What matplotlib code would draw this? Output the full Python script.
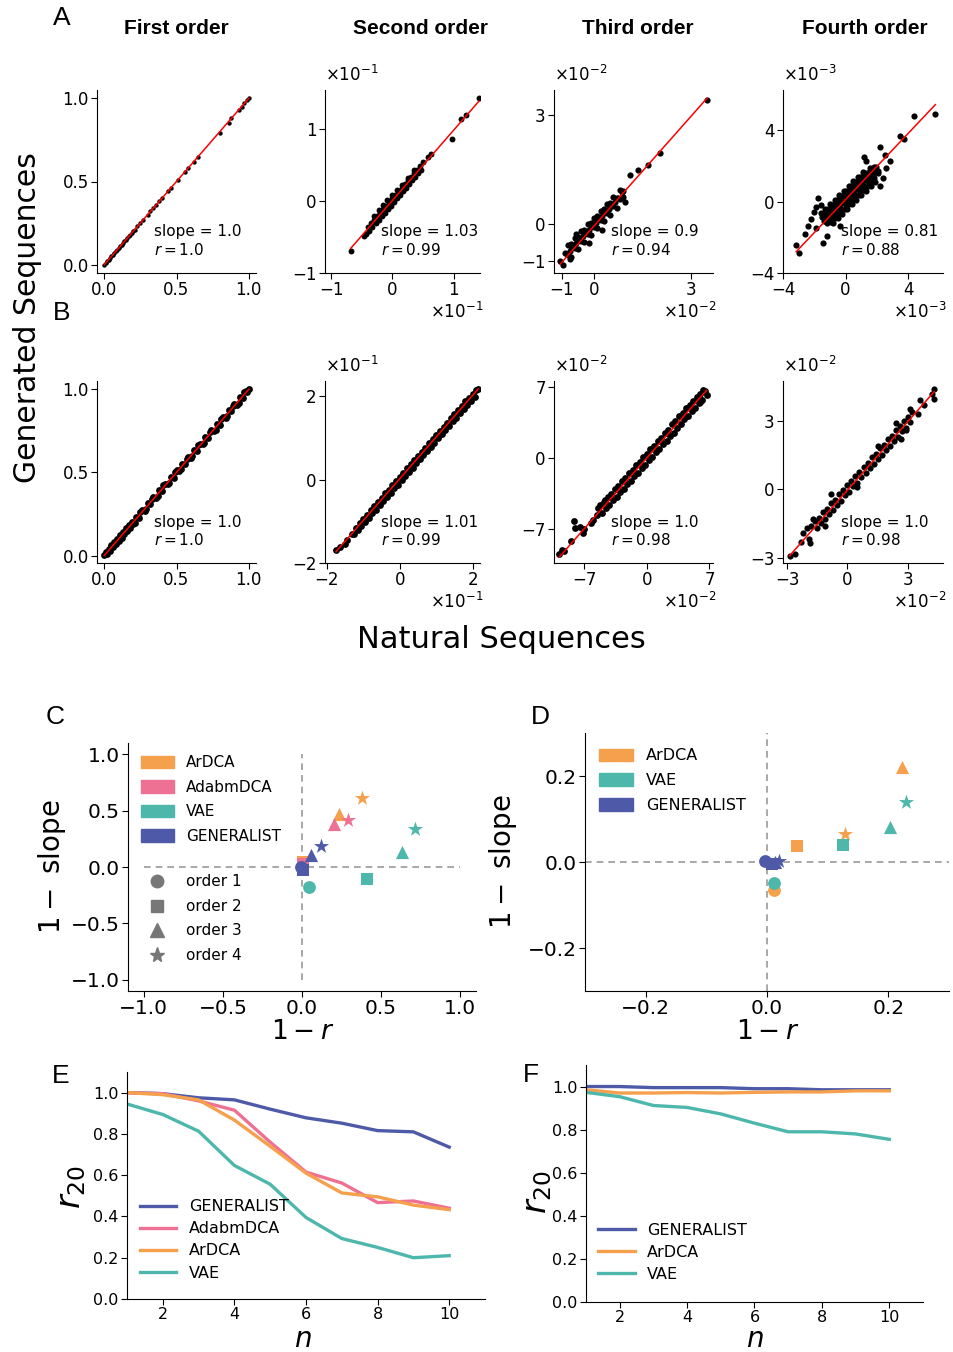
import numpy as np
import matplotlib
matplotlib.use('Agg')
import matplotlib.pyplot as plt
from matplotlib.patches import Patch
from matplotlib.lines import Line2D

# ---------------- data: panels A / B (natural vs generated statistics) ----------------
# values are in the units of each panel's axis (i.e. already divided by the x10^k factor)
nat_A1 = [0.00, 0.01, 0.02, 0.03, 0.04, 0.05, 0.06, 0.07, 0.08, 0.09, 0.10, 0.11, 0.12, 0.13,
          0.14, 0.15, 0.16, 0.17, 0.18, 0.19, 0.20, 0.21, 0.23, 0.25, 0.27, 0.30, 0.32, 0.34,
          0.36, 0.38, 0.40, 0.44, 0.46, 0.51, 0.56, 0.58, 0.62, 0.65, 0.80, 0.86, 0.88, 0.93,
          0.95, 0.97, 0.99, 1.00]
gen_A1 = [0.00, 0.01, 0.02, 0.03, 0.04, 0.05, 0.06, 0.07, 0.08, 0.09, 0.10, 0.11, 0.12, 0.13,
          0.14, 0.15, 0.16, 0.17, 0.18, 0.19, 0.20, 0.21, 0.23, 0.25, 0.27, 0.30, 0.32, 0.34,
          0.36, 0.38, 0.40, 0.44, 0.46, 0.51, 0.56, 0.58, 0.62, 0.65, 0.79, 0.85, 0.88, 0.93,
          0.95, 0.97, 0.99, 1.00]

nat_A2 = [-0.40, -0.35, -0.30, -0.25, -0.20, -0.15, -0.10, -0.05, 0.00, 0.05, 0.10, 0.15, 0.20,
          0.25, 0.30, 0.35, 0.40, 0.45, 0.50,
          -0.375, -0.325, -0.275, -0.225, -0.175, -0.125, -0.075, -0.025, 0.025, 0.075, 0.125,
          0.175, 0.225, 0.275, 0.325, 0.375, 0.425, 0.475,
          -0.30, -0.22, -0.15, -0.08, 0.00, 0.08, 0.15, 0.25, 0.35,
          -0.68, -0.46, -0.43, 0.58, 0.63, 0.98, 1.12, 1.20, 1.41]
gen_A2 = [-0.36, -0.31, -0.26, -0.21, -0.16, -0.11, -0.06, -0.01, 0.04, 0.09, 0.14, 0.19, 0.24,
          0.29, 0.34, 0.39, 0.44, 0.49, 0.54,
          -0.41, -0.36, -0.31, -0.26, -0.21, -0.16, -0.11, -0.06, -0.01, 0.04, 0.09,
          0.14, 0.19, 0.24, 0.29, 0.34, 0.39, 0.44,
          -0.20, -0.12, -0.05, 0.02, 0.09, 0.16, 0.23, 0.33, 0.43,
          -0.69, -0.48, -0.46, 0.62, 0.66, 0.87, 1.14, 1.20, 1.44]

nat_A3 = [-0.8, -0.6, -0.4, -0.2, 0.0, 0.2, 0.4, 0.6,
          -0.9, -0.7, -0.5, -0.3, -0.1, 0.1, 0.3, 0.5, 0.7, 0.85,
          -0.8, -0.6, -0.4, -0.2, 0.0, 0.2, 0.4, 0.6, 0.8,
          -0.7, -0.5, -0.3, -0.1, 0.1, 0.3, 0.5, 0.7,
          -0.85, -0.75, -0.65, -0.55, -0.45, -0.35, -0.25, -0.15, -0.05, 0.05, 0.15, 0.25, 0.35,
          0.45, 0.55, 0.65, 0.75,
          -0.7, -0.5, -0.3, -0.1, 0.1, 0.3, 0.5,
          -1.05, -0.95, -0.75, 0.96, 0.80, 0.90, 1.11, 1.37, 1.66, 2.04, 3.49, -0.15, 0.25, -0.55, 0.90]
gen_A3 = [-0.55, -0.37, -0.18, 0.0, 0.18, 0.37, 0.55, 0.74,
          -0.78, -0.60, -0.40, -0.22, -0.03, 0.16, 0.35, 0.54, 0.73, 0.88,
          -0.84, -0.65, -0.45, -0.26, -0.07, 0.12, 0.31, 0.50, 0.69,
          -0.88, -0.68, -0.49, -0.30, -0.10, 0.08, 0.27, 0.45,
          -0.82, -0.72, -0.62, -0.52, -0.43, -0.33, -0.24, -0.14, -0.05, 0.05, 0.14, 0.24, 0.33,
          0.43, 0.52, 0.62, 0.71,
          -0.53, -0.34, -0.15, 0.04, 0.23, 0.42, 0.60,
          -0.99, -1.12, -0.95, 0.61, 0.95, 0.92, 1.34, 1.50, 1.62, 1.95, 3.40, -0.50, -0.15, -0.25, 0.75]

nat_A4 = [-1.6, -1.3, -1.0, -0.7, -0.4, -0.1, 0.2, 0.5, 0.8, 1.1,
          -1.5, -1.2, -0.9, -0.6, -0.3, 0.0, 0.3, 0.6, 0.9, 1.2, 1.5, 1.8,
          -1.4, -1.1, -0.8, -0.5, -0.2, 0.1, 0.4, 0.7, 1.0, 1.3, 1.6, 1.9,
          -1.2, -0.9, -0.6, -0.3, 0.0, 0.3, 0.6, 0.9, 1.2, 1.5, 1.8, 2.1,
          -0.8, -0.5, -0.2, 0.1, 0.4, 0.7, 1.0, 1.3, 1.6, 1.9,
          -1.45, -1.15, -0.85, -0.55, -0.25, 0.05, 0.35, 0.65, 0.95, 1.25, 1.55,
          -1.35, -1.05, -0.75, -0.45, -0.15, 0.15, 0.45, 0.75, 1.05, 1.35, 1.65, 1.95,
          -1.25, -0.95, -0.65, -0.35, -0.05, 0.25, 0.55, 0.85, 1.15, 1.45, 1.75, 2.05,
          -0.95, -0.65, -0.35, -0.05, 0.25, 0.55, 0.85, 1.15, 1.45, 1.75,
          5.75, 4.36, 3.46, 3.74, 2.22, 2.82, 1.17, -3.16, -2.95, -1.77, -2.42, -1.45, -0.38,
          -2.0, -2.2, -1.9, -1.6, 2.4, 2.5, -2.6, -1.2, 1.3, 2.2, -1.9, 2.6]
gen_A4 = [-0.66, -0.41, -0.15, 0.11, 0.36, 0.62, 0.87, 1.13, 1.38, 1.64,
          -0.88, -0.62, -0.37, -0.11, 0.15, 0.40, 0.66, 0.91, 1.17, 1.42, 1.68, 1.93,
          -1.09, -0.84, -0.58, -0.33, -0.07, 0.19, 0.44, 0.70, 0.95, 1.21, 1.46, 1.72,
          -1.22, -0.97, -0.71, -0.46, -0.20, 0.06, 0.31, 0.57, 0.82, 1.08, 1.33, 1.59,
          -1.18, -0.93, -0.67, -0.42, -0.16, 0.10, 0.35, 0.61, 0.86, 1.12,
          -0.68, -0.43, -0.17, 0.08, 0.34, 0.59, 0.85, 1.10, 1.36, 1.61, 1.87,
          -0.90, -0.64, -0.39, -0.13, 0.12, 0.38, 0.63, 0.89, 1.14, 1.40, 1.65, 1.91,
          -1.11, -0.86, -0.60, -0.35, -0.09, 0.16, 0.42, 0.67, 0.93, 1.18, 1.44, 1.69,
          -1.16, -0.90, -0.65, -0.39, -0.14, 0.12, 0.37, 0.63, 0.88, 1.14,
          4.93, 4.78, 3.65, 3.48, 3.05, 2.25, 2.49, -2.42, -2.90, 0.21, -1.35, -2.32, -1.35,
          -0.6, -1.0, -1.5, -0.2, 1.3, 2.6, -1.8, -1.9, 2.3, 0.9, -0.3, 1.9]

nat_B1 = [0.00, 0.01, 0.02, 0.03, 0.04, 0.05, 0.06, 0.07, 0.08, 0.09, 0.10, 0.11, 0.12, 0.13,
          0.14, 0.15, 0.16, 0.17, 0.18, 0.19, 0.20,
          0.22, 0.24, 0.26, 0.28, 0.30, 0.32, 0.34, 0.36, 0.38, 0.40, 0.42, 0.44, 0.46, 0.48,
          0.50, 0.52, 0.54, 0.56, 0.58, 0.60, 0.62, 0.64, 0.66, 0.68, 0.70, 0.72, 0.74, 0.76,
          0.78, 0.80, 0.82, 0.84, 0.86, 0.88, 0.90, 0.92, 0.94, 0.96, 0.98, 1.00,
          0.21, 0.25, 0.29, 0.33, 0.37, 0.41, 0.45, 0.49, 0.53, 0.57, 0.61, 0.65, 0.69, 0.73,
          0.77, 0.81, 0.85, 0.89, 0.93, 0.97, 0.99]
gen_B1 = [0.005, 0.02, 0.012, 0.042, 0.03, 0.062, 0.05, 0.082, 0.069, 0.101, 0.088, 0.122,
          0.108, 0.143, 0.128, 0.163, 0.148, 0.183, 0.168, 0.204, 0.188,
          0.234, 0.228, 0.274, 0.268, 0.314, 0.308, 0.353, 0.348, 0.394, 0.387, 0.433, 0.428,
          0.474, 0.468, 0.513, 0.507, 0.553, 0.548, 0.594, 0.588, 0.633, 0.627, 0.673, 0.668,
          0.714, 0.707, 0.753, 0.748, 0.793, 0.787, 0.833, 0.828, 0.873, 0.868, 0.913, 0.908,
          0.952, 0.948, 0.990, 1.000,
          0.198, 0.262, 0.278, 0.342, 0.358, 0.422, 0.438, 0.502, 0.518, 0.582, 0.598, 0.662,
          0.678, 0.742, 0.758, 0.822, 0.838, 0.902, 0.918, 0.982, 0.985]

nat_B2 = [-1.1, -1.0, -0.9, -0.8, -0.7, -0.6, -0.5, -0.4, -0.3, -0.2, -0.1, 0.0, 0.1, 0.2, 0.3,
          0.4, 0.5, 0.6, 0.7, 0.8, 0.9, 1.0, 1.1, 1.2, 1.3, 1.4, 1.5, 1.6, 1.7, 1.8, 1.9, 2.0, 2.1,
          -1.05, -0.95, -0.85, -0.75, -0.65, -0.55, -0.45, -0.35, -0.25, -0.15, -0.05, 0.05,
          0.15, 0.25, 0.35, 0.45, 0.55, 0.65, 0.75, 0.85, 0.95, 1.05, 1.15, 1.25, 1.35, 1.45,
          1.55, 1.65, 1.75, 1.85, 1.95, 2.05,
          -1.75, -1.65, -1.5, -1.45, -1.3, -1.2, -1.25, -1.15, 2.15]
gen_B2 = [-1.04, -0.94, -0.84, -0.73, -0.64, -0.53, -0.44, -0.33, -0.24, -0.13, -0.04, 0.07,
          0.16, 0.27, 0.36, 0.47, 0.56, 0.67, 0.76, 0.87, 0.96, 1.07, 1.16, 1.27, 1.36, 1.47,
          1.56, 1.67, 1.76, 1.87, 1.96, 2.06, 2.14,
          -1.12, -1.01, -0.92, -0.81, -0.72, -0.61, -0.52, -0.41, -0.32, -0.21, -0.12, -0.01,
          0.08, 0.19, 0.28, 0.39, 0.48, 0.59, 0.68, 0.79, 0.88, 0.99, 1.08, 1.19, 1.28, 1.39,
          1.48, 1.59, 1.68, 1.79, 1.88, 1.98,
          -1.70, -1.62, -1.55, -1.45, -1.30, -1.15, -1.30, -1.20, 2.18]

nat_B3 = [-5.2, -4.8, -4.4, -4.0, -3.6, -3.2, -2.8, -2.4, -2.0, -1.6, -1.2, -0.8, -0.4, 0.0,
          0.4, 0.8, 1.2, 1.6, 2.0, 2.4, 2.8, 3.2, 3.6, 4.0, 4.4, 4.8, 5.2, 5.6, 6.0,
          -5.0, -4.6, -4.2, -3.8, -3.4, -3.0, -2.6, -2.2, -1.8, -1.4, -1.0, -0.6, -0.2, 0.2,
          0.6, 1.0, 1.4, 1.8, 2.2, 2.6, 3.0, 3.4, 3.8, 4.2, 4.6, 5.0, 5.4, 5.8, 6.2,
          -8.17, -8.06, -7.5, -7.13, -9.55, -9.8, -9.3, -8.5, -7.0, -6.3, -5.64, -5.5, -6.0,
          -4.7, 6.68, 6.23, 6.5, 5.9]
gen_B3 = [-4.7, -4.4, -3.9, -3.6, -3.1, -2.8, -2.3, -2.0, -1.5, -1.2, -0.7, -0.4, 0.1, 0.4,
          0.9, 1.2, 1.7, 2.0, 2.5, 2.8, 3.3, 3.6, 4.1, 4.4, 4.9, 5.2, 5.6, 6.0, 6.3,
          -5.5, -5.0, -4.7, -4.2, -3.9, -3.4, -3.1, -2.6, -2.3, -1.8, -1.5, -1.0, -0.7, -0.2,
          0.1, 0.6, 0.9, 1.4, 1.7, 2.2, 2.5, 3.0, 3.3, 3.8, 4.1, 4.6, 4.9, 5.4, 5.7,
          -6.2, -6.96, -6.8, -7.46, -9.1, -9.5, -9.2, -8.2, -7.0, -6.4, -5.64, -5.0, -6.1,
          -4.2, 6.24, 6.73, 6.6, 5.5]

nat_B4 = [-1.6, -1.4, -1.2, -1.0, -0.8, -0.6, -0.4, -0.2, 0.0, 0.2, 0.4, 0.6, 0.8, 1.0, 1.2,
          1.4, 1.6, 1.8, 2.0, 2.2, 2.4, 2.6, 2.8, 3.0, 3.2,
          -1.5, -1.3, -1.1, -0.9, -0.7, -0.5, -0.3, -0.1, 0.1, 0.3, 0.5, 0.7, 0.9, 1.1, 1.3,
          1.5, 1.7, 1.9, 2.1, 2.3, 2.5, 2.7, 2.9, 3.1,
          -2.87, -2.62, 4.31, 4.31, 4.2, -1.93, -1.85, -2.2, -1.8, -2.0, 3.13, 2.68, 3.5, 3.8,
          3.6, 2.9, -1.7, -2.3, -0.8, 1.5, 0.5, -1.1, 2.4]
gen_B4 = [-1.40, -1.24, -1.00, -0.84, -0.60, -0.44, -0.20, -0.04, 0.20, 0.36, 0.60, 0.76, 1.00,
          1.16, 1.40, 1.56, 1.80, 1.96, 2.20, 2.36, 2.60, 2.76, 3.00, 3.16, 3.40,
          -1.70, -1.46, -1.30, -1.06, -0.90, -0.66, -0.50, -0.26, -0.10, 0.14, 0.30, 0.54, 0.70,
          0.94, 1.10, 1.34, 1.50, 1.74, 1.90, 2.14, 2.30, 2.54, 2.70, 2.94,
          -2.90, -2.82, 4.39, 3.98, 4.20, -2.16, -2.35, -1.90, -1.60, -1.70, 3.54, 2.22, 3.30,
          3.70, 3.90, 2.60, -1.30, -2.30, -0.20, 1.90, 0.10, -1.60, 2.90]

orders = ['First order', 'Second order', 'Third order', 'Fourth order']
slope_txt = ['1.0', '1.03', '0.9', '0.81', '1.0', '1.01', '1.0', '1.0']
r_txt = ['1.0', '0.99', '0.94', '0.88', '1.0', '0.99', '0.98', '0.98']
fit_k = [1.0, 0.98, 1.0, 0.925, 1.0, 1.0, 1.0, 1.0]
fit_b = [0.0, 0.01, -0.04, 0.11, 0.0, 0.02, 0.0, -0.03]
exps = [None, -1, -2, -3, None, -1, -2, -2]
ticks = [[0.0, 0.5, 1.0], [-1, 0, 1], [-1, 0, 3], [-4, 0, 4],
         [0.0, 0.5, 1.0], [-2, 0, 2], [-7, 0, 7], [-3, 0, 3]]

# ---------------- data: panels C / D  (1 - r, 1 - slope) per order 1..4 ----------------
models_C = ['ArDCA', 'AdabmDCA', 'VAE', 'GENERALIST']
x_C = [[0.002, 0.005, 0.235, 0.377], [0.0, 0.005, 0.202, 0.29],
       [0.046, 0.414, 0.635, 0.717], [-0.005, 0.008, 0.057, 0.118]]
y_C = [[0.01, 0.04, 0.47, 0.61], [0.0, 0.03, 0.38, 0.42],
       [-0.18, -0.106, 0.135, 0.34], [0.0, -0.03, 0.105, 0.19]]

models_D = ['ArDCA', 'VAE', 'GENERALIST']
x_D = [[0.011, 0.049, 0.223, 0.129], [0.011, 0.126, 0.203, 0.229], [-0.003, 0.008, 0.013, 0.02]]
y_D = [[-0.066, 0.038, 0.222, 0.065], [-0.048, 0.04, 0.082, 0.14], [0.003, -0.005, 0.0, 0.002]]

# ---------------- data: panels E / F  (r20 vs n) ----------------
n_vals = [1, 2, 3, 4, 5, 6, 7, 8, 9, 10]
E_generalist = [1.0, 0.995, 0.975, 0.965, 0.92, 0.878, 0.852, 0.816, 0.81, 0.736]
E_adabmdca = [1.0, 0.995, 0.96, 0.915, 0.76, 0.615, 0.562, 0.467, 0.475, 0.44]
E_ardca = [1.0, 0.99, 0.965, 0.867, 0.74, 0.61, 0.514, 0.495, 0.455, 0.433]
E_vae = [0.945, 0.894, 0.813, 0.647, 0.556, 0.395, 0.293, 0.25, 0.2, 0.21]

F_generalist = [1.0, 1.0, 0.995, 0.995, 0.995, 0.99, 0.99, 0.985, 0.985, 0.985]
F_ardca = [0.985, 0.97, 0.97, 0.972, 0.97, 0.973, 0.975, 0.975, 0.98, 0.98]
F_vae = [0.973, 0.953, 0.912, 0.903, 0.873, 0.83, 0.79, 0.79, 0.78, 0.755]

col = {'ArDCA': '#F5A04C', 'AdabmDCA': '#EE7193', 'VAE': '#4DB7AC', 'GENERALIST': '#4E5AA8'}

W, H = 954, 1352
fig = plt.figure(figsize=(W / 100, H / 100), dpi=100)
plt.rcParams['font.family'] = ['DejaVu Sans']


def box(l, t, r, b):
    a = fig.add_axes([l / W, 1 - b / H, (r - l) / W, (b - t) / H])
    a.spines['top'].set_visible(False)
    a.spines['right'].set_visible(False)
    return a


def ftext(x, y, s, **kw):
    fig.text(x / W, 1 - y / H, s, **kw)


def lab(v):
    s = ('%.1f' % v) if isinstance(v, float) else str(v)
    return s.replace('-', '\u2212')


# ---------------- A / B ----------------
nats = [nat_A1, nat_A2, nat_A3, nat_A4, nat_B1, nat_B2, nat_B3, nat_B4]
gens = [gen_A1, gen_A2, gen_A3, gen_A4, gen_B1, gen_B2, gen_B3, gen_B4]
boxes = [(97, 90, 256, 273), (325, 90, 480, 273), (554, 90, 713, 273), (783, 90, 943, 273),
         (97, 381, 256, 563), (325, 381, 480, 563), (554, 381, 713, 563), (783, 381, 943, 563)]
xlims = [(-0.05, 1.05), (-1.1, 1.43), (-1.24, 3.68), (-4.0, 6.24),
         (-0.05, 1.05), (-2.05, 2.2), (-10.4, 7.4), (-3.2, 4.75)]
ylims = [(-0.05, 1.05), (-1.0, 1.55), (-1.33, 3.68), (-4.0, 6.25),
         (-0.045, 1.05), (-2.0, 2.36), (-10.4, 7.6), (-3.22, 4.75)]
dot = [10, 18, 20, 20, 24, 24, 24, 20]

for i in range(8):
    ax = box(*boxes[i])
    x = np.array(nats[i])
    y = np.array(gens[i])
    ax.scatter(x, y, s=dot[i], color='black', linewidths=0, zorder=2)
    xx = np.array([x.min(), x.max()])
    ax.plot(xx, fit_k[i] * xx + fit_b[i], color='red', lw=1.1, zorder=3)
    ax.set_xlim(xlims[i])
    ax.set_ylim(ylims[i])
    ax.set_xticks(ticks[i])
    ax.set_yticks(ticks[i])
    ax.set_xticklabels([lab(t) for t in ticks[i]])
    ax.set_yticklabels([lab(t) for t in ticks[i]])
    ax.tick_params(labelsize=12, length=4, pad=2)
    ax.text(0.36, 0.225, 'slope = ' + slope_txt[i], transform=ax.transAxes,
            fontsize=11, va='center', ha='left')
    ax.text(0.36, 0.125, '$r = $' + r_txt[i], transform=ax.transAxes,
            fontsize=11, va='center', ha='left')
    if exps[i] is not None:
        e = r'$\times10^{%d}$' % exps[i]
        ax.text(0.0, 1.08, e, transform=ax.transAxes, fontsize=12, ha='left', va='center')
        ax.text(1.02, -0.215, e, transform=ax.transAxes, fontsize=12, ha='right', va='center')

for cx, t in zip([176, 421, 638, 865], orders):
    ftext(cx, 28, t, ha='center', va='center', fontsize=15, fontweight='bold',
          family='Liberation Sans')
ftext(28, 318, 'Generated Sequences', rotation=90, ha='center', va='center', fontsize=21.5)
ftext(501, 640, 'Natural Sequences', ha='center', va='center', fontsize=22)

for t, (px, py) in zip('ABCDEF', [(62, 18), (62, 313), (55, 717), (540, 717), (61, 1076), (531, 1075)]):
    ftext(px, py, t, ha='center', va='center', fontsize=19, family='Liberation Sans')

# ---------------- C / D ----------------
mk = ['o', 's', '^', '*']
ms = [85, 75, 90, 130]


def order_legend(ax, y0):
    hs = [Line2D([], [], ls='', marker=mk[k], color='#777777', markersize=[9, 8.5, 9.5, 11][k])
          for k in range(4)]
    lg = ax.legend(hs, ['order %d' % (k + 1) for k in range(4)], loc='upper left',
                   bbox_to_anchor=(0.037, y0), frameon=False, fontsize=11, handlelength=2.15,
                   handletextpad=0.8, labelspacing=0.62, borderpad=0, borderaxespad=0)
    return lg


def model_legend(ax, names, x0, y0, fs):
    hs = [Patch(color=col[m]) for m in names]
    lg = ax.legend(hs, names, loc='upper left', bbox_to_anchor=(x0, y0), frameon=False,
                   fontsize=fs, handlelength=2.15, handleheight=0.85, handletextpad=0.8,
                   labelspacing=0.62, borderpad=0, borderaxespad=0)
    return lg


axC = box(128, 743, 476, 991)
for m, xs, ys in zip(models_C, x_C, y_C):
    for k in range(4):
        axC.scatter(xs[k], ys[k], marker=mk[k], s=ms[k], color=col[m], linewidths=0, zorder=3)
axC.hlines(0, -1, 1, colors='#999999', linestyles=(0, (4, 3)), lw=1.2, zorder=1)
axC.vlines(0, -1, 1, colors='#999999', linestyles=(0, (4, 3)), lw=1.2, zorder=1)
axC.set_xlim(-1.1, 1.1)
axC.set_ylim(-1.1, 1.1)
axC.set_xticks([-1.0, -0.5, 0.0, 0.5, 1.0])
axC.set_yticks([-1.0, -0.5, 0.0, 0.5, 1.0])
axC.set_xticklabels([lab(t) for t in [-1.0, -0.5, 0.0, 0.5, 1.0]])
axC.set_yticklabels([lab(t) for t in [-1.0, -0.5, 0.0, 0.5, 1.0]])
axC.tick_params(labelsize=14.5, length=4, pad=2)
lg1 = model_legend(axC, models_C, 0.037, 0.95, 11)
axC.add_artist(lg1)
order_legend(axC, 0.47)

axD = box(585, 733, 949, 991)
for m, xs, ys in zip(models_D, x_D, y_D):
    for k in range(4):
        axD.scatter(xs[k], ys[k], marker=mk[k], s=ms[k], color=col[m], linewidths=0, zorder=3)
axD.axhline(0, color='#999999', ls=(0, (4, 3)), lw=1.2, zorder=1)
axD.axvline(0, color='#999999', ls=(0, (4, 3)), lw=1.2, zorder=1)
axD.set_xlim(-0.3, 0.3)
axD.set_ylim(-0.3, 0.3)
axD.set_xticks([-0.2, 0.0, 0.2])
axD.set_yticks([-0.2, 0.0, 0.2])
axD.set_xticklabels([lab(t) for t in [-0.2, 0.0, 0.2]])
axD.set_yticklabels([lab(t) for t in [-0.2, 0.0, 0.2]])
axD.tick_params(labelsize=14.5, length=4, pad=2)
model_legend(axD, models_D, 0.038, 0.94, 11.5)

ftext(52, 867, '$1 -$ slope', rotation=90, ha='center', va='center', fontsize=20)
ftext(303, 1032, '$1 - r$', ha='center', va='center', fontsize=19)
ftext(503, 862, '$1 -$ slope', rotation=90, ha='center', va='center', fontsize=20)
ftext(768, 1032, '$1 - r$', ha='center', va='center', fontsize=19)

# ---------------- E / F ----------------
axE = box(127, 1072, 485, 1299)
axE.plot(n_vals, E_generalist, color=col['GENERALIST'], lw=2.4, label='GENERALIST')
axE.plot(n_vals, E_adabmdca, color=col['AdabmDCA'], lw=2.4, label='AdabmDCA')
axE.plot(n_vals, E_ardca, color=col['ArDCA'], lw=2.4, label='ArDCA')
axE.plot(n_vals, E_vae, color=col['VAE'], lw=2.4, label='VAE')

axF = box(586, 1065, 923, 1302)
axF.plot(n_vals, F_generalist, color=col['GENERALIST'], lw=2.4, label='GENERALIST')
axF.plot(n_vals, F_ardca, color=col['ArDCA'], lw=2.4, label='ArDCA')
axF.plot(n_vals, F_vae, color=col['VAE'], lw=2.4, label='VAE')

for ax, y0 in [(axE, 0.44), (axF, 0.335)]:
    ax.set_xlim(1, 11)
    ax.set_ylim(0, 1.1)
    ax.set_xticks([2, 4, 6, 8, 10])
    ax.set_yticks([0.0, 0.2, 0.4, 0.6, 0.8, 1.0])
    ax.set_yticklabels(['%.1f' % v for v in [0.0, 0.2, 0.4, 0.6, 0.8, 1.0]])
    ax.tick_params(labelsize=11.5, length=4, pad=2)
    ax.legend(loc='upper left', bbox_to_anchor=(0.035, y0), frameon=False, fontsize=11.5,
              handlelength=2.3, handletextpad=0.8, labelspacing=0.45, borderpad=0,
              borderaxespad=0)

ftext(72, 1187, '$r_{20}$', rotation=90, ha='center', va='center', fontsize=24)
ftext(538, 1192, '$r_{20}$', rotation=90, ha='center', va='center', fontsize=24)
ftext(303, 1339, '$n$', ha='center', va='center', fontsize=20)
ftext(755, 1339, '$n$', ha='center', va='center', fontsize=20)

fig.savefig('out.png', dpi=100, facecolor='white')
